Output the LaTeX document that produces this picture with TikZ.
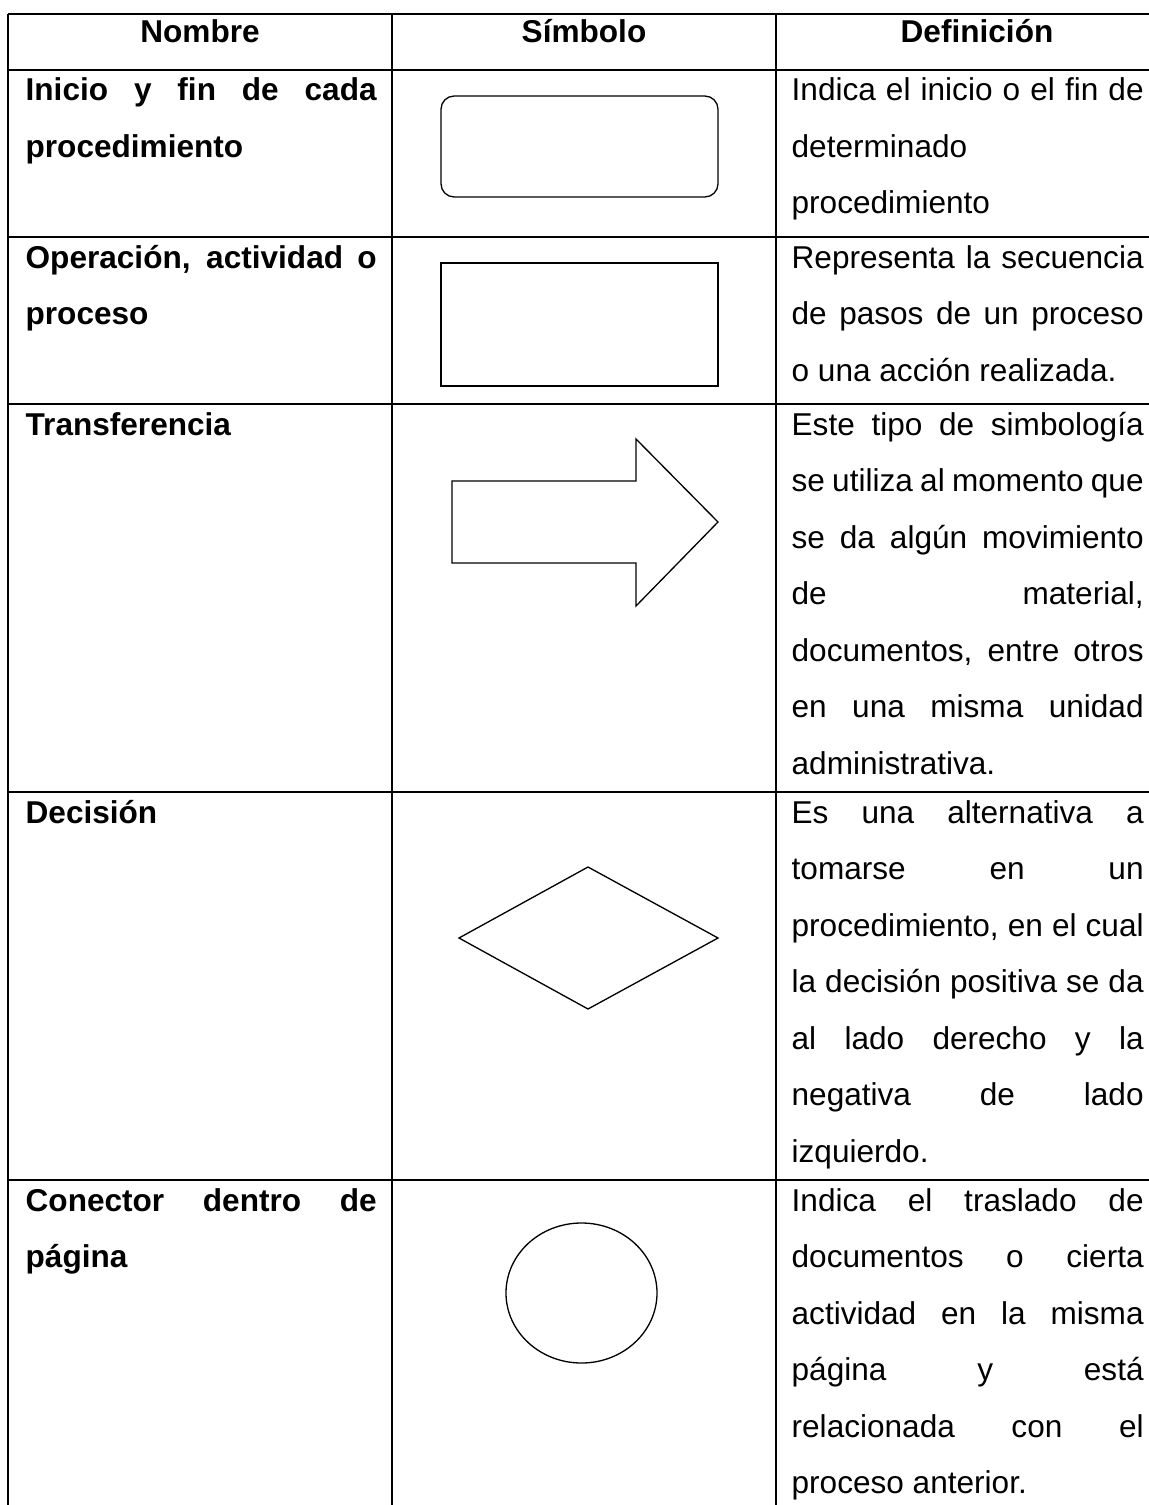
\documentclass[tikz,border=0pt]{standalone}
\usepackage{fontspec}
\setmainfont{Liberation Sans}
\hyphenpenalty=10000
\exhyphenpenalty=10000

\begin{document}
\begin{tikzpicture}[x=0.38pt, y=-0.38pt, line width=0.5pt,
    celda/.style={anchor=base west, inner sep=0pt, text width=133.76pt, align=justify,
      font=\fontsize{12}{21.47}\selectfont},
    nombre/.style={celda, text width=133.38pt,
      font=\fontsize{12}{21.47}\selectfont\bfseries},
    cabecera/.style={anchor=base, inner sep=0pt, font=\fontsize{12}{14}\selectfont\bfseries},
    borde/.style={line width=0.6pt}]
  \useasboundingbox (0,0) rectangle (1149,1505);
  \fill[white] (0,0) rectangle (1149,1505);

  % Lineas de la tabla
  \foreach \y in {14,70,237,404,792,1180}{
    \draw[borde] (8,\y) -- (1149,\y);
  }
  \foreach \x in {8,392,776}{
    \draw[borde] (\x,14) -- (\x,1505);
  }

  % Encabezado
  \node[cabecera] (hNombre) at (200,43) {Nombre};
  \node[cabecera] (hSimbolo) at (584,43) {Símbolo};
  \node[cabecera] (hDefinicion) at (977,43) {Definición};

  % Inicio y fin
  \node[nombre] (nInicio) at (25,101) {Inicio y fin de cada\linebreak procedimiento};
  \draw[rounded corners=5pt] (441,96) rectangle (718,197);
  \node[celda] (dInicio) at (791,101) {Indica el inicio o el fin de\linebreak determinado\\ procedimiento};

  % Operacion
  \node[nombre] (nOperacion) at (25,268) {Operación, actividad o\linebreak proceso};
  \draw (441,263) rectangle (718,386);
  \node[celda] (dOperacion) at (791,268) {Representa la secuencia\linebreak de pasos de un proceso\linebreak o una acción realizada.};

  % Transferencia
  \node[nombre] (nTransferencia) at (25,435) {Transferencia};
  \draw (452,481) -- (636,481) -- (636,439) -- (718,522) -- (636,606) -- (636,563) -- (452,563) -- cycle;
  \node[celda] (dTransferencia) at (791,435) {Este tipo de simbología\linebreak se utiliza al momento que\linebreak se da algún movimiento\linebreak de material,\linebreak documentos, entre otros\linebreak en una misma unidad\linebreak administrativa.};

  % Decision
  \node[nombre] (nDecision) at (25,823) {Decisión};
  \draw (459,938) -- (588,867) -- (718,938) -- (588,1009) -- cycle;
  \node[celda] (dDecision) at (791,823) {Es una alternativa a\linebreak tomarse en un\linebreak procedimiento, en el cual\linebreak la decisión positiva se da\linebreak al lado derecho y la\linebreak negativa de lado\linebreak izquierdo.};

  % Conector
  \node[nombre] (nConector) at (25,1211) {Conector dentro de\linebreak página};
  \draw (581.5,1293) ellipse [x radius=75.5, y radius=70];
  \node[celda] (dConector) at (791,1211) {Indica el traslado de\linebreak documentos o cierta\linebreak actividad en la misma\linebreak página y está\linebreak relacionada con el\linebreak proceso anterior.};
\end{tikzpicture}
\end{document}
